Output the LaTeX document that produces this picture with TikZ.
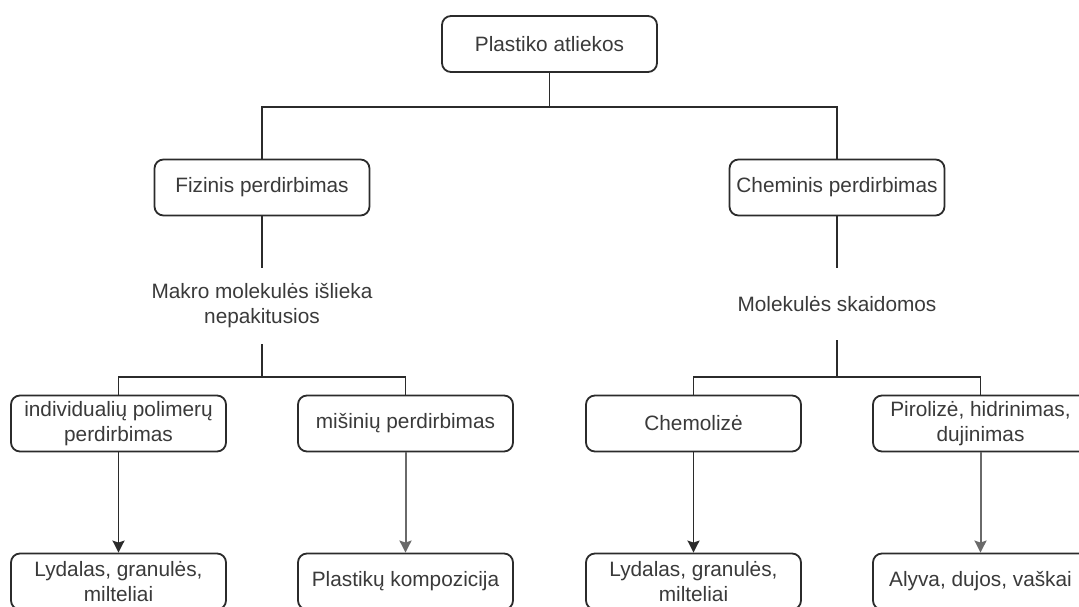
\documentclass[tikz,border=0pt]{standalone}
\usepackage{fontspec}
\setmainfont{Liberation Sans}
\usetikzlibrary{arrows.meta}
\definecolor{boxStroke}{HTML}{2B2B2B}
\definecolor{textDark}{HTML}{3A3A3A}
\definecolor{arrowSoft}{HTML}{6A6A6A}

\begin{document}
\begin{tikzpicture}[x=1pt,y=1pt,
  font=\fontsize{20.8}{25}\selectfont,>={Stealth[length=12pt,width=12pt,inset=2pt]},
  stage/.style={rectangle,rounded corners=9pt,draw=boxStroke,line width=1.8pt,fill=white,text=textDark,minimum width=215pt,minimum height=56pt,align=center,inner sep=2pt},
  result/.style={stage,minimum height=56pt},
  note/.style={rectangle,text=textDark,minimum width=215pt,align=center,inner sep=0pt},
  link/.style={line width=1.8pt,draw=boxStroke},
  feed/.style={->,line width=1.8pt,draw=boxStroke}, feedsoft/.style={->,line width=2pt,draw=arrowSoft}
]
\useasboundingbox (0,0) rectangle (1079,606);
\clip (0,0) rectangle (1079,606);
% Two branches under one root; the last row runs past the lower edge of the page.
\node[stage] (waste) at (549.5,562) {Plastiko atliekos};
\node[stage] (physical) at (262,418.5) {Fizinis perdirbimas};
\node[stage] (chemical) at (837,418.5) {Cheminis perdirbimas};
\node[note,minimum height=76pt] (intact) at (262,300) {Makro molekulės išlieka\\nepakitusios};
\node[note,minimum height=72pt] (split) at (837,302) {Molekulės skaidomos};
\node[stage] (single) at (118.5,182.5) {individualių polimerų\\perdirbimas};
\node[stage] (mixed) at (405.5,182.5) {mišinių perdirbimas};
\node[stage] (chemolysis) at (693.5,182.5) {Chemolizė};
\node[stage] (pyrolysis) at (980.5,182.5) {Pirolizė, hidrinimas,\\dujinimas};
\node[result] (meltA) at (118.5,24.5) {Lydalas, granulės,\\milteliai};
\node[result] (blend) at (405.5,24.5) {Plastikų kompozicija};
\node[result] (meltB) at (693.5,24.5) {Lydalas, granulės,\\milteliai};
\node[result] (oils) at (980.5,24.5) {Alyva, dujos, vaškai};
\coordinate (topbar) at (549.5,499);
\coordinate (leftbar) at (262,229);
\coordinate (rightbar) at (837,229);
\draw[link] (waste.south) -- (topbar) -| (physical.north);
\draw[link] (topbar) -| (chemical.north);
\draw[link] (physical.south) -- (intact.north);
\draw[link] (chemical.south) -- (split.north);
\draw[link] (intact.south) -- (leftbar) -| (single.north);
\draw[link] (leftbar) -| (mixed.north);
\draw[link] (split.south) -- (rightbar) -| (chemolysis.north);
\draw[link] (rightbar) -| (pyrolysis.north);
\draw[feed] (single.south) -- (meltA.north);
\draw[feedsoft] (mixed.south) -- (blend.north);
\draw[feed] (chemolysis.south) -- (meltB.north);
\draw[feedsoft] (pyrolysis.south) -- (oils.north);
\end{tikzpicture}
\end{document}
